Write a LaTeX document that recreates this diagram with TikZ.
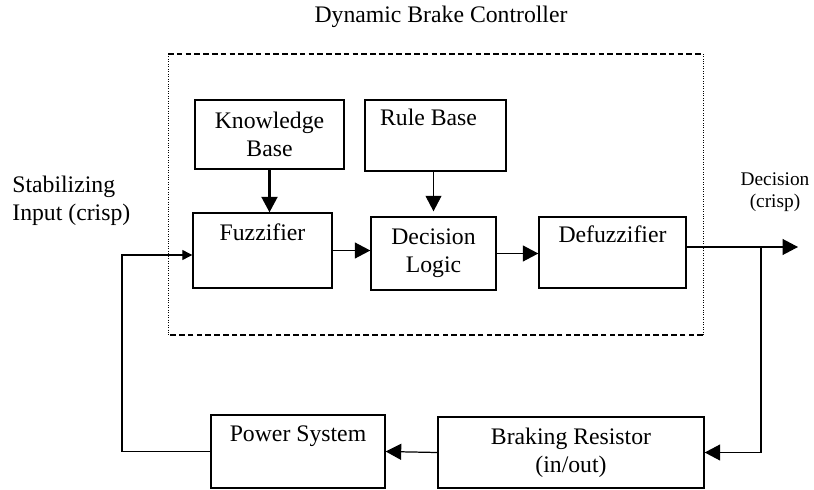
\documentclass[tikz,border=0pt]{standalone}
\usepackage{fontspec}
\setmainfont{Liberation Serif}
\usetikzlibrary{arrows.meta,positioning,calc}

\tikzset{
  blk/.style={draw,line width=0.8pt,align=center,inner sep=0pt},
  flow/.style={line width=0.7pt,->},
  framedash/.style={line width=0.7pt,dash pattern=on 3.2pt off 1.8pt},
  framedot/.style={line width=0.5pt,dash pattern=on 0.5pt off 0.9pt},
}

\begin{document}
\begin{tikzpicture}[font=\fontsize{13.5}{16}\selectfont,>={Triangle[length=3.1mm,width=3.2mm]}]
  \useasboundingbox (0,0) rectangle (16.28,9.78);
  % controller frame: dashed top and bottom, dotted sides
  \coordinate (dbc-nw) at (3.36,8.7);
  \coordinate (dbc-se) at (14.06,3.08);
  \draw[framedash] (dbc-nw) -- (dbc-nw -| dbc-se);
  \draw[framedash] (dbc-se) -- (dbc-se -| dbc-nw);
  \draw[framedot] (dbc-nw) -- (dbc-nw |- dbc-se);
  \draw[framedot] (dbc-se) -- (dbc-se |- dbc-nw);
  \node (title) at (8.82,9.44) {Dynamic Brake Controller};

  % fuzzy blocks
  \node[blk,minimum width=2.98cm,minimum height=1.38cm] (kb) at (5.39,7.09) {Knowledge\\Base};
  \node[blk,minimum width=2.82cm,minimum height=1.42cm] (rb) at (8.71,7.07) {Rule Base\hspace*{0.28cm}\\\strut};
  \node[blk,minimum width=2.78cm,minimum height=1.5cm] (fuzz) at (5.25,4.77) {Fuzzifier\\\strut};
  \node[blk,minimum width=2.5cm,minimum height=1.46cm] (dl) at (8.67,4.71) {Decision\\Logic};
  \node[blk,minimum width=2.94cm,minimum height=1.42cm] (dfz) at (12.25,4.73) {Defuzzifier\\\strut};
  % plant side
  \node[blk,minimum width=3.48cm,minimum height=1.46cm] (ps) at (5.96,0.75) {Power System\\\strut};
  \node[blk,minimum width=5.32cm,minimum height=1.42cm] (br) at (11.42,0.73) {Braking Resistor\\(in/out)};

  % signal labels
  \node[align=left,anchor=west,inner sep=0pt] (inlbl) at (0.24,5.76) {Stabilizing\\Input (crisp)};
  \node[align=center,font=\fontsize{11}{12.5}\selectfont] (outlbl) at (15.5,5.94) {Decision\\(crisp)};

  % connectors
  \draw[line width=1.2pt,->] (kb.south) -- (kb.south |- fuzz.north);
  \draw[line width=0.5pt,->] (dl.north |- rb.south) -- ([yshift=1mm]dl.north);
  \draw[flow] (fuzz.east) -- (fuzz.east -| dl.west);
  \draw[flow] (dl.east) -- (dl.east -| dfz.west);
  \coordinate (out) at (15.96,4.84);
  \coordinate (tap) at (15.22,4.84);
  \draw[flow] (dfz.east |- out) -- (out);
  \draw[flow] (tap) |- (br.east);
  \draw[flow] (br.west) -- (ps.east);
  % feedback into the fuzzifier
  \coordinate (fb) at (2.44,0.75);
  \draw[line width=0.7pt,-{Triangle[length=2mm,width=2mm]}] (ps.west) -- (fb) |- ([yshift=-0.09cm]fuzz.west);
\end{tikzpicture}
\end{document}
